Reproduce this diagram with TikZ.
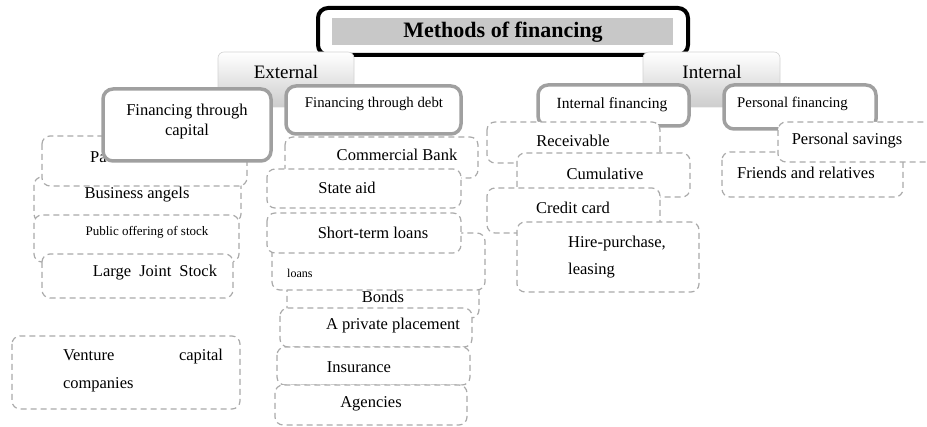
\documentclass[tikz,border=0pt]{standalone}
\usepackage{fontspec}
\setmainfont{Liberation Serif}
\usepackage{tikz}
\usetikzlibrary{positioning}
\definecolor{titlegray}{RGB}{200,200,200}
\definecolor{framegray}{RGB}{160,160,160}
\definecolor{dashgray}{RGB}{170,170,170}
\definecolor{tabgray}{RGB}{205,205,205}

\begin{document}
\begin{tikzpicture}[x=1pt, y=-1pt,
    headbox/.style={draw=framegray, line width=3.5pt, rounded corners=10pt, fill=white},
    dashbox/.style={draw=dashgray, line width=1.2pt, dash pattern=on 6pt off 4pt, rounded corners=8pt, fill=white},
    tabbox/.style={draw=gray!35, line width=0.6pt, rounded corners=6pt, top color=white, bottom color=tabgray},
    txt/.style={inner sep=0pt, font=\fontsize{16.5}{20}\selectfont},
    smalltxt/.style={inner sep=0pt, font=\fontsize{14.8}{18}\selectfont}]
    \useasboundingbox (0,0) rectangle (927,427);

    % Title
    \draw[line width=4pt, rounded corners=10pt, fill=white] (318,8) rectangle (688,55);
    \fill[titlegray] (332,18) rectangle (673,45);
    \node[inner sep=0pt, font=\fontsize{22}{26}\selectfont\bfseries] (title) at (503,32) {Methods of financing};

    % External / Internal tabs
    \draw[tabbox] (218,52) rectangle (354,107);
    \node[inner sep=0pt, font=\fontsize{19}{22}\selectfont] (external) at (286,72) {External};
    \draw[tabbox] (643,52) rectangle (780,107);
    \node[inner sep=0pt, font=\fontsize{19}{22}\selectfont] (internal) at (712,72) {Internal};

    % Financing through capital
    \draw[dashbox] (34,177) rectangle (241,222);
    \node[txt] (angels) at (137,195) {Business angels};
    \draw[dashbox] (42,136) rectangle (247,186);
    \node[txt, anchor=west] (partners) at (90,157) {Pa};
    \draw[headbox] (103,89) rectangle (271,161);
    \node[txt, align=center] (capital) at (187,122) {Financing through\\capital};
    \draw[dashbox] (34,215) rectangle (239,262);
    \node[inner sep=0pt, font=\fontsize{13}{16}\selectfont] (offering) at (147,232) {Public offering of stock};
    \draw[dashbox] (42,254) rectangle (233,298);
    \node[txt] (jointstock) at (155,273) {Large\hspace{4pt} Joint\hspace{4pt} Stock};
    \draw[dashbox] (12,336) rectangle (240,409);
    \node[txt, text width=160pt, align=left, font=\fontsize{16.5}{28}\selectfont] (venture) at (143,371) {Venture\hfill capital\\companies};

    % Financing through debt
    \draw[dashbox] (285,137) rectangle (478,178);
    \node[txt] (bank) at (397,155) {Commercial Bank};
    \draw[headbox] (286,86) rectangle (461,134);
    \node[smalltxt] (debt) at (374,104) {Financing through debt};
    \draw[dashbox] (267,169) rectangle (461,208);
    \node[txt] (stateaid) at (347,188) {State aid};
    \draw[dashbox] (287,258) rectangle (479,318);
    \node[txt] (bonds) at (383,297) {Bonds};
    \draw[dashbox] (272,233) rectangle (485,290);
    \node[inner sep=0pt, anchor=west, font=\fontsize{12}{14}\selectfont] (longloans) at (287,273) {loans};
    \draw[dashbox] (267,213) rectangle (461,253);
    \node[txt] (shortloans) at (373,233) {Short-term loans};
    \draw[dashbox] (280,308) rectangle (472,347);
    \node[txt] (placement) at (393,326) {A private placement};
    \draw[dashbox] (277,347) rectangle (470,385);
    \node[txt] (insurance) at (359,367) {Insurance};
    \draw[dashbox] (275,385) rectangle (467,425);
    \node[txt] (agencies) at (371,404) {Agencies};

    % Internal financing
    \draw[headbox] (538,85) rectangle (689,126);
    \node[inner sep=0pt, font=\fontsize{15.5}{18}\selectfont] (internalfin) at (612,105) {Internal financing};
    \draw[dashbox] (487,122) rectangle (660,163);
    \node[txt] (receivable) at (573,141) {Receivable};
    \draw[dashbox] (517,153) rectangle (690,197);
    \node[txt] (cumulative) at (605,174) {Cumulative};
    \draw[dashbox] (487,188) rectangle (660,233);
    \node[txt] (creditcard) at (573,208) {Credit card};
    \draw[dashbox] (517,222) rectangle (699,292);
    \node[txt, anchor=west, align=left, font=\fontsize{16.5}{27}\selectfont] (leasing) at (568,257) {Hire-purchase,\\leasing};

    % Personal financing
    \draw[headbox] (724,85) rectangle (876,129);
    \node[smalltxt, anchor=west] (personalfin) at (737,104) {Personal financing};
    \draw[dashbox] (722,152) rectangle (903,197);
    \node[txt, anchor=west] (friends) at (737,173) {Friends and relatives};
    \draw[dashbox] (778,122) rectangle (945,162);
    \node[txt] (savings) at (847,141) {Personal savings};
\end{tikzpicture}
\end{document}
